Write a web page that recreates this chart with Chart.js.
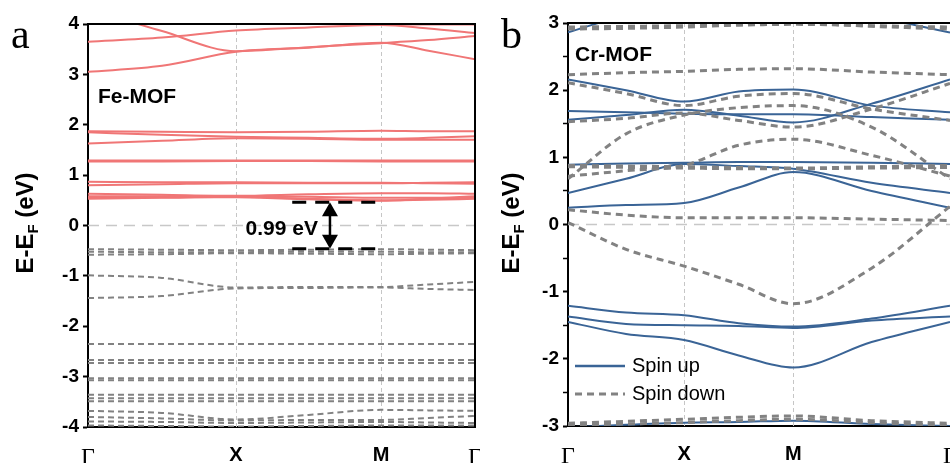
<!DOCTYPE html>
<html>
<head>
<meta charset="utf-8">
<script src="https://cdn.jsdelivr.net/npm/chart.js@4.4.1/dist/chart.umd.min.js"></script>
<style>
    html, body { margin: 0; padding: 0; background: #fff; }
    #wrap { position: relative; width: 950px; height: 463px; overflow: hidden; }
    canvas { position: absolute; top: 0; }
    #fe { left: 0; }
    #cr { left: 480px; }
</style>
</head>
<body>
<div id="wrap">
    <canvas id="fe" width="480" height="463" style="width:480px;height:463px"></canvas>
    <canvas id="cr" width="470" height="463" style="width:470px;height:463px"></canvas>
</div>
<script>
const kLabels = ['Γ', 'X', 'M', 'Γ'];

// Fe-MOF: k samples (Γ, mid, X, mid, M, mid, Γ)
const feK = [0, 0.5, 1, 1.49, 1.98, 2.30, 2.615];
const feKTicks = [0, 1, 1.98, 2.615];
const feUp = [
    [3.05, 3.17, 3.45, 3.53, 3.63, 3.47, 3.30],
    [3.65, 3.73, 3.87, 3.93, 3.98, 3.91, 3.82],
    [4.30, 3.86, 3.46, 3.54, 3.62, 3.68, 3.76],
    [4.15, 4.08, 4.03, 4.01, 3.99, 3.99, 3.99],
    [1.87, 1.86, 1.85, 1.86, 1.88, 1.87, 1.87],
    [1.85, 1.80, 1.76, 1.74, 1.72, 1.74, 1.77],
    [1.63, 1.68, 1.73, 1.72, 1.70, 1.70, 1.70],
    [1.29, 1.29, 1.29, 1.29, 1.29, 1.29, 1.29],
    [1.27, 1.27, 1.28, 1.28, 1.27, 1.27, 1.27],
    [0.87, 0.86, 0.86, 0.85, 0.85, 0.84, 0.83],
    [0.80, 0.82, 0.84, 0.84, 0.84, 0.85, 0.86],
    [0.63, 0.61, 0.59, 0.62, 0.64, 0.64, 0.63],
    [0.58, 0.58, 0.58, 0.57, 0.55, 0.55, 0.58],
    [0.53, 0.55, 0.57, 0.53, 0.50, 0.51, 0.53],
    [0.56, 0.56, 0.56, 0.52, 0.49, 0.53, 0.55]
];
const feDown = [
    [-0.47, -0.48, -0.49, -0.48, -0.47, -0.48, -0.49],
    [-0.52, -0.53, -0.53, -0.52, -0.52, -0.53, -0.53],
    [-0.58, -0.57, -0.55, -0.56, -0.57, -0.56, -0.55],
    [-0.99, -1.04, -1.23, -1.22, -1.22, -1.17, -1.12],
    [-1.44, -1.40, -1.25, -1.24, -1.23, -1.26, -1.28],
    [-2.35, -2.35, -2.35, -2.35, -2.35, -2.35, -2.35],
    [-2.67, -2.67, -2.67, -2.67, -2.67, -2.67, -2.67],
    [-2.73, -2.73, -2.73, -2.73, -2.73, -2.73, -2.73],
    [-3.03, -3.03, -3.03, -3.03, -3.03, -3.03, -3.03],
    [-3.07, -3.07, -3.07, -3.07, -3.07, -3.07, -3.07],
    [-3.36, -3.36, -3.36, -3.36, -3.36, -3.36, -3.36],
    [-3.43, -3.43, -3.43, -3.43, -3.43, -3.43, -3.43],
    [-3.49, -3.49, -3.49, -3.49, -3.49, -3.49, -3.49],
    [-3.68, -3.72, -3.85, -3.76, -3.66, -3.67, -3.68],
    [-3.80, -3.83, -3.87, -3.86, -3.86, -3.82, -3.78],
    [-3.89, -3.90, -3.92, -3.91, -3.90, -3.91, -3.92],
    [-3.97, -3.98, -3.99, -3.98, -3.97, -3.97, -3.97]
];
const feGapLevels = [0.46, -0.46];
const feGapSpan = [1.38, 1.98];
const feGapArrowK = 1.635;
const feGapLabel = '0.99 eV';

// Cr-MOF
const crK = [0, 0.5, 1, 1.47, 1.94, 2.615, 3.29];
const crKTicks = [0, 1, 1.94, 3.29];
const crUp = [
    [2.86, 3.12, 3.30, 3.35, 3.30, 3.10, 2.86],
    [2.16, 2.00, 1.83, 1.98, 2.01, 1.77, 1.67],
    [1.69, 1.67, 1.65, 1.64, 1.64, 1.60, 1.56],
    [1.56, 1.63, 1.71, 1.62, 1.52, 1.80, 2.16],
    [0.89, 0.91, 0.92, 0.93, 0.93, 0.92, 0.90],
    [0.47, 0.68, 0.90, 0.87, 0.83, 0.62, 0.47],
    [0.25, 0.29, 0.32, 0.55, 0.78, 0.50, 0.25],
    [-1.21, -1.31, -1.35, -1.47, -1.52, -1.40, -1.21],
    [-1.37, -1.48, -1.50, -1.51, -1.54, -1.43, -1.37],
    [-1.45, -1.63, -1.72, -1.95, -2.13, -1.75, -1.45],
    [-3.02, -2.98, -2.95, -2.94, -2.92, -2.97, -3.00]
];
const crDown = [
    [2.94, 2.95, 2.96, 2.97, 2.98, 2.96, 2.94],
    [2.91, 2.92, 2.94, 2.97, 3.00, 2.95, 2.91],
    [2.23, 2.26, 2.28, 2.31, 2.32, 2.27, 2.23],
    [2.11, 1.95, 1.77, 1.91, 1.95, 1.72, 1.55],
    [1.53, 1.58, 1.66, 1.55, 1.45, 1.72, 2.10],
    [0.68, 1.35, 1.63, 1.74, 1.77, 1.45, 0.68],
    [0.72, 0.80, 0.88, 1.18, 1.27, 1.03, 0.72],
    [0.88, 0.87, 0.86, 0.85, 0.84, 0.86, 0.88],
    [0.86, 0.85, 0.84, 0.83, 0.83, 0.84, 0.85],
    [0.22, 0.14, 0.10, 0.10, 0.10, 0.08, 0.06],
    [0.03, -0.37, -0.62, -0.89, -1.18, -0.65, 0.27],
    [-2.96, -2.93, -2.90, -2.87, -2.85, -2.92, -2.96],
    [-2.99, -2.97, -2.95, -2.92, -2.90, -2.95, -2.99]
];
const legendLabels = ['Spin up', 'Spin down'];

const RED = 'rgb(240, 118, 118)';
const BLUE = 'rgb(58, 100, 150)';
const GRAY = 'rgb(130, 130, 130)';
const SANS = '"Liberation Sans", Arial, sans-serif';
const SERIF = '"Liberation Serif", "Times New Roman", serif';

function line(ctx, x1, y1, x2, y2) {
    ctx.beginPath();
    ctx.moveTo(x1, y1);
    ctx.lineTo(x2, y2);
    ctx.stroke();
}

function drawYTitle(ctx, cx, cy) {
    const big = 'bold 24px ' + SANS, small = 'bold 15px ' + SANS;
    ctx.save();
    ctx.translate(cx, cy);
    ctx.rotate(-Math.PI / 2);
    ctx.fillStyle = '#000';
    ctx.textBaseline = 'alphabetic';
    ctx.font = big;
    const w1 = ctx.measureText('E-E').width, w3 = ctx.measureText(' (eV)').width;
    ctx.font = small;
    const w2 = ctx.measureText('F').width;
    let x = -(w1 + w2 + w3) / 2;
    const base = 7;
    ctx.font = big; ctx.fillText('E-E', x, base); x += w1;
    ctx.font = small; ctx.fillText('F', x, base + 5); x += w2;
    ctx.font = big; ctx.fillText(' (eV)', x, base);
    ctx.restore();
}

function makePanel(id, cfg) {
    const datasets = [];
    cfg.down.forEach(b => datasets.push({
        data: b.map((v, i) => ({ x: cfg.k[i], y: v })),
        borderColor: GRAY, borderWidth: cfg.dashWidth, borderDash: cfg.dash
    }));
    cfg.up.forEach(b => datasets.push({
        data: b.map((v, i) => ({ x: cfg.k[i], y: v })),
        borderColor: cfg.upColor, borderWidth: 2
    }));

    const decor = {
        id: 'decor',
        beforeDatasetsDraw(chart) {
            const { ctx, chartArea: a, scales: { x, y } } = chart;
            ctx.save();
            ctx.strokeStyle = '#c6c6c6';
            ctx.lineWidth = 1;
            ctx.setLineDash([4, 3]);
            cfg.kTicks.slice(1, -1).forEach(k => {
                const px = Math.round(x.getPixelForValue(k)) + 0.5;
                line(ctx, px, a.top, px, a.bottom);
            });
            ctx.strokeStyle = '#c8c8c8';
            ctx.lineWidth = 1.5;
            ctx.setLineDash([11, 7]);
            const y0 = y.getPixelForValue(0);
            line(ctx, a.left, y0, a.right, y0);
            ctx.restore();
        },
        afterDraw(chart) {
            const { ctx, chartArea: a, scales: { x, y } } = chart;
            ctx.save();
            ctx.strokeStyle = '#000';
            ctx.lineWidth = 2;
            line(ctx, a.left - 1, a.top, a.right + 1, a.top);
            if (cfg.rightFrame) line(ctx, a.right, a.top, a.right, a.bottom + 1);

            if (cfg.gap) {
                const yt = y.getPixelForValue(feGapLevels[0]);
                const yb = y.getPixelForValue(feGapLevels[1]);
                const x1 = x.getPixelForValue(feGapSpan[0]);
                const x2 = x.getPixelForValue(feGapSpan[1]);
                const xa = x.getPixelForValue(feGapArrowK);
                ctx.lineWidth = 3;
                ctx.setLineDash([14, 9]);
                line(ctx, x1, yt, x2, yt);
                line(ctx, x1, yb, x2, yb);
                ctx.setLineDash([]);
                ctx.lineWidth = 2.5;
                line(ctx, xa, yt + 12, xa, yb - 12);
                ctx.fillStyle = '#000';
                ctx.beginPath();
                ctx.moveTo(xa, yt); ctx.lineTo(xa - 8, yt + 14); ctx.lineTo(xa + 8, yt + 14); ctx.closePath();
                ctx.fill();
                ctx.beginPath();
                ctx.moveTo(xa, yb); ctx.lineTo(xa - 8, yb - 14); ctx.lineTo(xa + 8, yb - 14); ctx.closePath();
                ctx.fill();
                ctx.font = 'bold 21px ' + SANS;
                ctx.textAlign = 'right';
                ctx.textBaseline = 'middle';
                ctx.fillText(feGapLabel, xa - 12, y.getPixelForValue(0) + 4);
            }

            ctx.fillStyle = '#000';
            ctx.textAlign = 'left';
            ctx.textBaseline = 'middle';
            ctx.font = 'bold 21px ' + SANS;
            ctx.fillText(cfg.name, cfg.nameX, cfg.nameY);

            ctx.textBaseline = 'alphabetic';
            ctx.font = '42px ' + SERIF;
            ctx.fillText(cfg.letter, cfg.letterX, 48);

            drawYTitle(ctx, cfg.titleX, 223);

            if (cfg.legend) {
                const lx = a.left + 7;
                ctx.lineWidth = 2.5;
                ctx.strokeStyle = BLUE;
                line(ctx, lx, 366, lx + 50, 366);
                ctx.strokeStyle = GRAY;
                ctx.lineWidth = 3;
                ctx.setLineDash([7, 5]);
                line(ctx, lx, 394, lx + 50, 394);
                ctx.setLineDash([]);
                ctx.font = '20px ' + SANS;
                ctx.textBaseline = 'middle';
                ctx.fillText(legendLabels[0], lx + 57, 366);
                ctx.fillText(legendLabels[1], lx + 57, 394);
            }
            ctx.restore();
        }
    };

    new Chart(document.getElementById(id), {
        type: 'line',
        data: { datasets },
        options: {
            responsive: false,
            animation: false,
            layout: { padding: { left: 0, right: cfg.padRight, top: cfg.padTop, bottom: 0 } },
            elements: {
                point: { radius: 0 },
                line: { cubicInterpolationMode: 'monotone', fill: false }
            },
            plugins: { legend: { display: false }, tooltip: { enabled: false } },
            scales: {
                x: {
                    type: 'linear',
                    min: 0,
                    max: cfg.kTicks[cfg.kTicks.length - 1],
                    afterBuildTicks: s => { s.ticks = cfg.kTicks.map(v => ({ value: v })); },
                    afterFit: s => { s.height = 463 - cfg.bottom; s.paddingLeft = 0; s.paddingRight = 0; },
                    grid: { display: false, drawTicks: false },
                    border: { display: true, color: '#000', width: 2 },
                    ticks: {
                        autoSkip: false,
                        maxRotation: 0,
                        padding: 16,
                        color: '#000',
                        callback: (v, i) => kLabels[i],
                        font: c => kLabels[c.index] === 'Γ'
                            ? { family: SERIF, size: 24 }
                            : { family: SANS, size: 20, weight: 'bold' }
                    }
                },
                y: {
                    min: cfg.yMin,
                    max: cfg.yMax,
                    afterFit: s => { s.width = 88; s.paddingTop = 0; s.paddingBottom = 0; },
                    grid: {
                        drawOnChartArea: false,
                        tickLength: 5,
                        tickColor: '#000',
                        tickWidth: c => Number.isInteger(c.tick.value) ? 2 : 1.5
                    },
                    border: { color: '#000', width: 2 },
                    ticks: {
                        stepSize: 0.5,
                        maxTicksLimit: 100,
                        padding: 4,
                        color: '#000',
                        font: { family: SANS, size: 19, weight: 'bold' },
                        callback: v => Number.isInteger(v) ? String(v) : ''
                    }
                }
            }
        },
        plugins: [decor]
    });
}

makePanel('fe', {
    k: feK, kTicks: feKTicks, up: feUp, down: feDown,
    upColor: RED, dash: [6, 4], dashWidth: 2,
    yMin: -4, yMax: 4, padRight: 5, padTop: 24, bottom: 427,
    rightFrame: true, gap: true, legend: false,
    name: 'Fe-MOF', nameX: 98, nameY: 97,
    letter: 'a', letterX: 11, titleX: 26
});

makePanel('cr', {
    k: crK, kTicks: crKTicks, up: crUp, down: crDown,
    upColor: BLUE, dash: [7, 5], dashWidth: 3,
    yMin: -3, yMax: 3, padRight: 0, padTop: 23, bottom: 426,
    rightFrame: false, gap: false, legend: true,
    name: 'Cr-MOF', nameX: 95, nameY: 55,
    letter: 'b', letterX: 21, titleX: 32
});
</script>
</body>
</html>
